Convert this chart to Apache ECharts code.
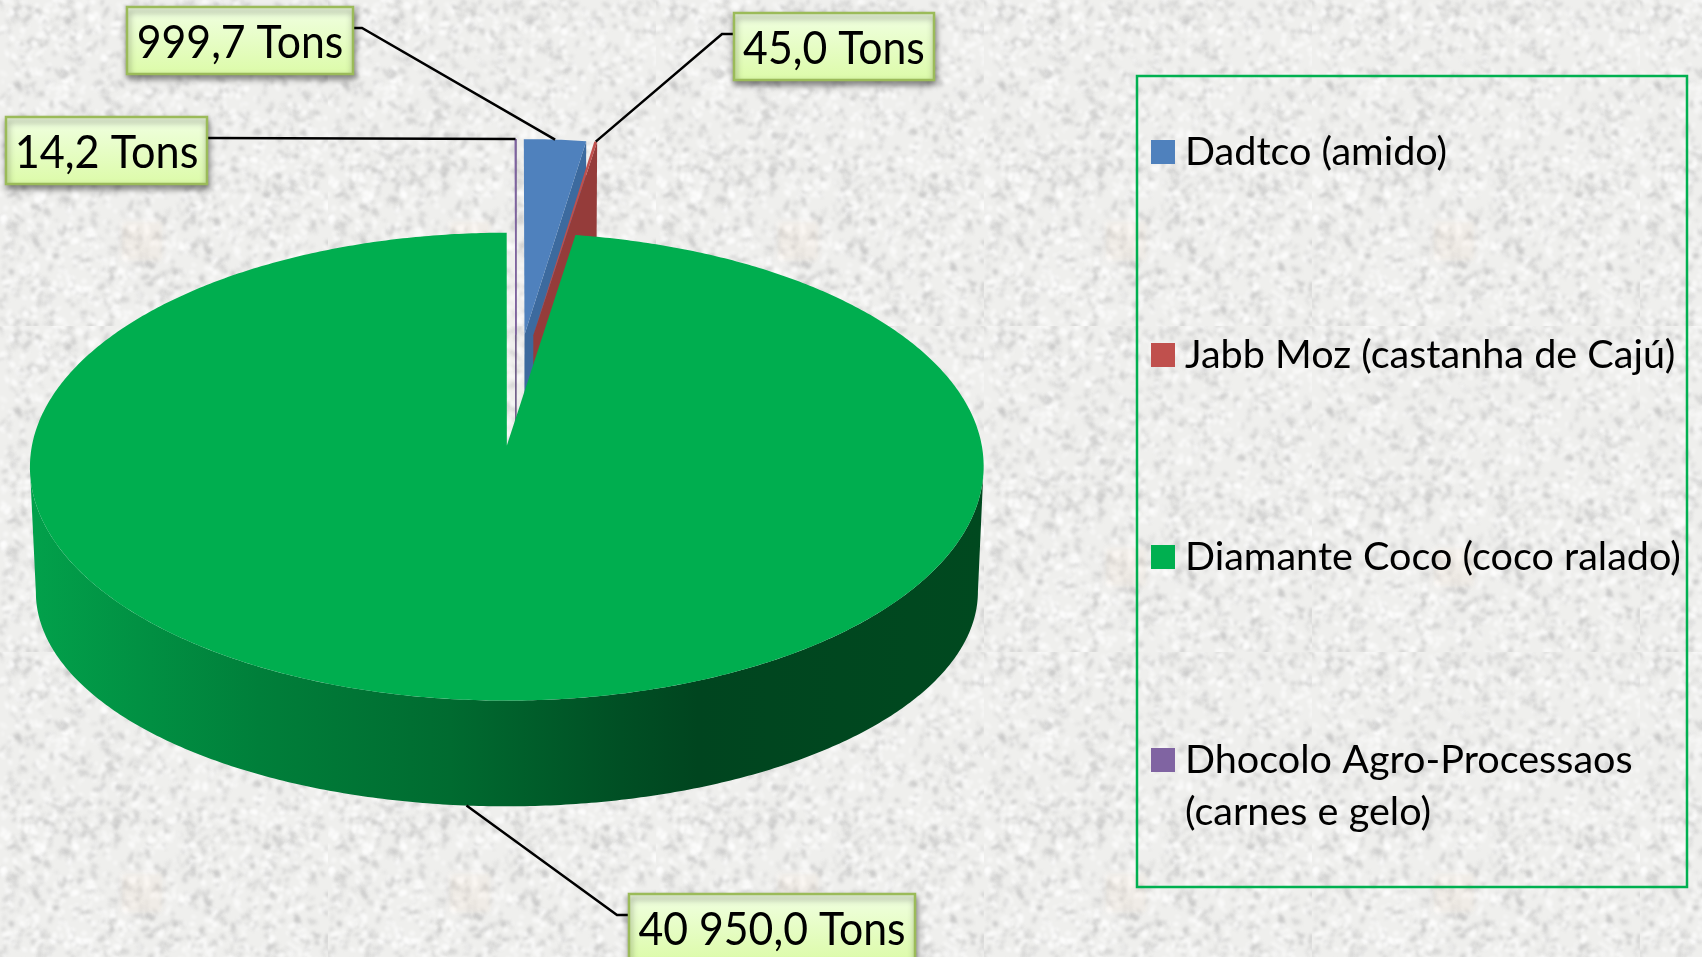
<!DOCTYPE html>
<html><head><meta charset="utf-8">
<style>html,body{margin:0;padding:0;background:#f0f0ee;overflow:hidden}#c{width:1702px;height:957px}</style>
<script src="https://cdn.jsdelivr.net/npm/echarts@6/dist/echarts.min.js"></script>
</head><body><div id="c"></div>
<script>
// ---- data ----
const categories = ['Dadtco (amido)', 'Jabb Moz (castanha de Cajú)', 'Diamante Coco (coco ralado)', 'Dhocolo Agro-Processaos\n(carnes e gelo)'];
const tons = [999.7, 45.0, 40950.0, 14.2];
const valueLabels = ['999,7 Tons', '45,0 Tons', '40 950,0 Tons', '14,2 Tons'];
const topColors = ['#4f81bd', '#c0504d', '#00ae4f', '#8064a2'];
const legendColors = ['#4f81bd', '#c0504d', '#00b050', '#8064a2'];
const wallColors = ['#3c6a9e', '#953c3a', '#00692f', '#5f4a7c'];

// ---- projection of the tilted pie ----
const P = {xc: 516, yc: 389, Fx: 464.5, H: 222, Hlow: 194.5, k: -0.088, explode: 0.25, depth: 133.5, depthW: 0.012};
function proj(X, Y, low) {
  const w = 1 + P.k * Y + (low ? P.depthW : 0);
  return [P.xc + P.Fx * X / w, P.yc + (low ? P.Hlow * Y + P.depth : P.H * Y) / w];
}
const total = tons.reduce((a, b) => a + b, 0);
const spans = []; let acc = 0;
tons.forEach(v => { const a = acc / total * 2 * Math.PI; acc += v; spans.push([a, acc / total * 2 * Math.PI]); });
function wedgeGeom(i) {
  const [a0, a1] = spans[i], mid = (a0 + a1) / 2;
  const ox = P.explode * Math.sin(mid), oy = -P.explode * Math.cos(mid);
  const rim = (a, low) => proj(ox + Math.sin(a), oy - Math.cos(a), low);
  const centre = low => proj(ox, oy, low);
  return {a0, a1, mid, rim, centre};
}
function arc(g, from, to, low) {
  const n = Math.max(2, Math.ceil(Math.abs(to - from) / 0.01)), pts = [];
  for (let j = 0; j <= n; j++) pts.push(g.rim(from + (to - from) * j / n, low));
  return pts;
}
// angle of the rim's horizontal extreme, so the wall's sides are the true silhouette
function extremeAngle(g, low, from, to, sign) {
  let best = from, bx = -Infinity;
  for (let a = from; a <= to; a += 0.002) {
    const x = sign * g.rim(a, low)[0];
    if (x > bx) { bx = x; best = a; }
  }
  return best;
}
// ---- label boxes ----
const boxes = [
  {x: 127, y: 7, w: 226, h: 67, side: 'r', elbowX: 362, sx: 0.93},
  {x: 734, y: 13, w: 200, h: 67, side: 'l', elbowX: 722, sx: 0.93},
  {x: 629, y: 894, w: 286, h: 67, side: 'l', elbowX: 617, sx: 0.93, low: true},
  {x: 6, y: 117, w: 201, h: 67, side: 'r', elbowX: 208, sx: 0.94}
];
const drawZ = [2, 3, 4, 1];

function labelEls(i, g) {
  const b = boxes[i];
  const anchor = g.rim(g.mid, !!b.low);
  const ey = b.y + 21;
  const ex = b.side === 'r' ? b.x + b.w : b.x;
  return [
    {type: 'polyline', shape: {points: [[ex, ey], [b.elbowX, ey], anchor]}, style: {stroke: '#000', lineWidth: 2.5, fill: null}},
    {type: 'rect', shape: {x: b.x, y: b.y, width: b.w, height: b.h}, style: {
      fill: new echarts.graphic.LinearGradient(0, 0, 0, 1, [{offset: 0, color: '#f1ffe3'}, {offset: 1, color: '#dcfba8'}]),
      stroke: '#9bbb59', lineWidth: 2.5, shadowBlur: 6, shadowOffsetY: 4, shadowOffsetX: 1, shadowColor: 'rgba(0,0,0,0.45)'}},
    {type: 'text', x: b.x + b.w / 2, y: b.y + b.h / 2 + 3, scaleX: b.sx, style: {text: valueLabels[i], fill: '#000', font: '46px Lato', align: 'center', verticalAlign: 'middle'}}
  ];
}
function renderWedge(i) {
  return function () {
    const g = wedgeGeom(i), ch = [];
    const topPts = [g.centre(false)].concat(arc(g, g.a0, g.a1, false));
    if (i === 2) {
      const tR = extremeAngle(g, false, 1, 2.2, 1), tL = extremeAngle(g, false, 4.1, 5.3, -1);
      const bR = extremeAngle(g, true, 1, 2.2, 1), bL = extremeAngle(g, true, 4.1, 5.3, -1);
      const top = arc(g, tR, tL, false);
      const bot = arc(g, bL, bR, true);
      ch.push({type: 'polygon', shape: {points: top.concat(bot)}, style: {
        fill: new echarts.graphic.LinearGradient(0, 0, 1, 0, [
          {offset: 0, color: '#02a14b'}, {offset: 0.24, color: '#007f3a'}, {offset: 0.44, color: '#006b30'},
          {offset: 0.62, color: '#004f24'}, {offset: 0.7, color: '#00451f'}, {offset: 1, color: '#00491f'}])}});
    } else {
      const r = g.a1;
      ch.push({type: 'polygon', shape: {points: [g.centre(false), g.rim(r, false), g.rim(r, true), g.centre(true)]},
        style: {fill: wallColors[i], stroke: i === 3 ? wallColors[i] : null, lineWidth: i === 3 ? 1 : 0}});
    }
    ch.push({type: 'polygon', shape: {points: topPts}, style: {fill: topColors[i], stroke: i === 3 ? topColors[i] : null, lineWidth: i === 3 ? 1 : 0}});
    return {type: 'group', children: ch.concat(labelEls(i, g))};
  };
}
// ---- paper texture (decoration only) ----
function paper() {
  const c = document.createElement('canvas'); c.width = 328; c.height = 326;
  const x = c.getContext('2d');
  x.fillStyle = '#efefed'; x.fillRect(0, 0, 328, 326);
  let s = 12345; const r = () => (s = (s * 1664525 + 1013904223) >>> 0) / 4294967296;
  x.filter = 'blur(1.4px)';
  for (let i = 0; i < 2600; i++) {
    const d = r() < 0.5;
    x.fillStyle = d ? 'rgba(190,190,190,' + (0.2 + r() * 0.35) + ')' : 'rgba(255,255,255,' + (0.35 + r() * 0.45) + ')';
    x.beginPath();
    x.ellipse(r() * 328, r() * 326, 2 + r() * 3, 1.2 + r() * 1.8, r() * 3.14, 0, 6.3);
    x.fill();
  }
  x.filter = 'blur(2px)';
  x.fillStyle = 'rgba(245,228,210,0.22)';
  x.fillRect(122, 222, 40, 38);
  return c;
}
const legendTops = [126, 329, 531, 682];
const chart = echarts.init(document.getElementById('c'), null, {renderer: 'canvas'});
chart.setOption({
  animation: false,
  backgroundColor: {image: paper(), repeat: 'repeat'},
  legend: categories.map((n, i) => ({
    data: [n], left: 1151, top: legendTops[i], orient: 'vertical', padding: 0,
    itemWidth: 24, itemHeight: 24, itemGap: 0, icon: 'rect', selectedMode: false,
    formatter: name => (i === 3 ? '\n' : '') + name,
    textStyle: {fontFamily: 'Lato', fontSize: 39.6, color: '#000', lineHeight: 52, padding: [0, 0, 0, 5]}
  })),
  graphic: [{type: 'rect', shape: {x: 1137, y: 76, width: 550, height: 811}, style: {fill: 'transparent', stroke: '#00b050', lineWidth: 2.5}, z: 1}],
  series: categories.map((n, i) => ({
    type: 'custom', name: n, coordinateSystem: 'none', z: drawZ[i], silent: true,
    itemStyle: {color: legendColors[i]},
    data: [[tons[i]]], renderItem: renderWedge(i)
  }))
});
</script></body></html>
